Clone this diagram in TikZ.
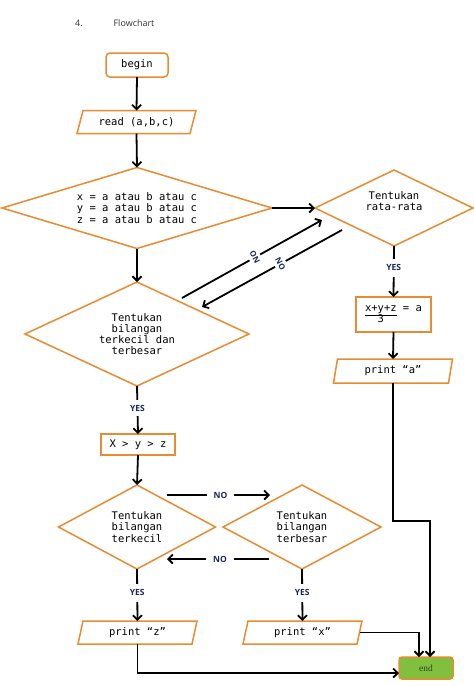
\documentclass[tikz,border=0pt]{standalone}
\usepackage{fontspec}
\setmonofont{DejaVu Sans Mono}
\newfontfamily\labfont{Open Sans}
\newfontfamily\endfont{Liberation Serif}
\usetikzlibrary{shapes.geometric,arrows.meta,calc}
\definecolor{orng}{RGB}{232,140,50}
\definecolor{navy}{RGB}{28,40,90}
\definecolor{endgreen}{RGB}{128,192,62}
\definecolor{endtext}{RGB}{50,70,30}
\newcommand\drawpara[2]{\draw[orng, line width=1.5pt, line join=miter]
  ([xshift=-#2pt]#1.south west) -- ([xshift=#2pt]#1.north west) --
  ([xshift=#2pt]#1.north east) -- ([xshift=-#2pt]#1.south east) -- cycle;}
\begin{document}
\begin{tikzpicture}[x=1pt,y=-1pt,
  every node/.style={font=\ttfamily\fontsize{10.5}{11.2}\selectfont, align=center, inner sep=0pt, outer sep=0pt},
  ttl/.style={font=\labfont\fontsize{9}{10}\selectfont, text=black!80},
  rectbox/.style={draw=orng, line width=1.5pt},
  termbox/.style={draw=orng, line width=1.5pt, rounded corners=4pt},
  paranode/.style={draw=none},
  dia/.style={draw=orng, line width=1.5pt, shape=diamond},
  arr/.style={line width=1.8pt, -{Straight Barb[length=4.5pt,width=9pt]}},
  labtext/.style={font=\labfont\bfseries\fontsize{8.5}{10}\selectfont, text=navy, fill=white},
  yeslab/.style={labtext, inner xsep=3pt, inner ysep=6pt},
  nolab/.style={labtext, inner xsep=7pt, inner ysep=3pt},
  rotlab/.style={labtext, font=\labfont\bfseries\fontsize{8}{9}\selectfont, inner xsep=0.5pt, inner ysep=3pt}
]
\useasboundingbox (0,0) rectangle (474,686);
\fill[white] (0,0) rectangle (474,686);

% title
\node[ttl] (num) at (79,23) {4.};
\node[ttl] (title) at (134,23) {Flowchart};

% main column
\node[termbox, minimum width=62, minimum height=24] (begin) at (137,65) {begin};
\node[paranode, minimum width=113, minimum height=23] (read) at (136.5,122) {read (a,b,c)};
\drawpara{read}{3}
\node[dia, aspect=3.33, minimum width=270, minimum height=81] (d1) at (137,208)
  {x = a atau b atau c\\y = a atau b atau c\\z = a atau b atau c};
\node[dia, aspect=2.08, minimum width=158, minimum height=76] (d2) at (394,208)
  {Tentukan\\rata-rata\\[3pt]};
\node[dia, aspect=2.15, minimum width=224, minimum height=104] (d3) at (137,334)
  {Tentukan\\bilangan\\terkecil dan\\terbesar};
\node[rectbox, minimum width=75, minimum height=35] (avg) at (393.5,314.5)
  {\begin{tabular}[t]{@{}c@{}}\underline{x+y+z}\\[-1pt]3\end{tabular} = a};
\node[paranode, minimum width=115, minimum height=24] (pa) at (393,371) {print “a”};
\drawpara{pa}{2}
\node[rectbox, minimum width=74, minimum height=21] (xyz) at (138,444.5) {X > y > z};
\node[dia, aspect=1.87, minimum width=157, minimum height=84] (d4) at (137,527)
  {Tentukan\\bilangan\\terkecil};
\node[dia, aspect=1.87, minimum width=158, minimum height=84] (d5) at (302,527)
  {Tentukan\\bilangan\\terbesar};
\node[paranode, minimum width=114, minimum height=23] (pz) at (137.5,632.5) {print “z”};
\drawpara{pz}{2.5}
\node[paranode, minimum width=114, minimum height=23] (px) at (302.5,632.5) {print “x”};
\drawpara{px}{2.5}
\node[draw=orng, line width=1.5pt, fill=endgreen, rounded corners=3pt,
  minimum width=54, minimum height=22, font=\endfont\fontsize{9.5}{11}\selectfont, text=endtext] (end) at (426,668) {end};

% free ends of connectors
\coordinate (n1a) at (182,298);
\coordinate (n1b) at (322,220);
\coordinate (n2a) at (342,230);
\coordinate (n2b) at (202,307);
\coordinate (h1a) at (167,495);
\coordinate (h1b) at (270,495);
\coordinate (h2a) at (269,559);
\coordinate (h2b) at (167,559);

% connectors
\draw[arr] (begin.south) -- (read.north);
\draw[arr] (read.south) -- (d1.north);
\draw[arr] (d1.east) -- (d2.west);
\draw[arr] (d1.south) -- (d3.north);
\draw[arr] (n1a) -- node[rotlab, pos=.52, rotate=119]{NO} (n1b);
\draw[arr] (n2a) -- node[rotlab, pos=.44, rotate=-61]{NO} (n2b);
\draw[arr] (d2.south) -- node[yeslab, pos=.43]{YES} (avg.north);
\draw[arr] (avg.south) -- (pa.north);
\draw[arr] (pa.south) -- ++(0,138) -| ([xshift=4pt]end.north);
\draw[arr] (d3.south) -- node[yeslab, pos=.46, inner ysep=5pt]{YES} (xyz.north);
\draw[arr] (xyz.south) -- (d4.north);
\draw[arr] (h1a) -- node[nolab, pos=.52]{NO} (h1b);
\draw[arr] (h2a) -- node[nolab, pos=.48]{NO} (h2b);
\draw[arr] (d4.south) -- node[yeslab, pos=.46]{YES} (pz.north);
\draw[arr] (d5.south) -- node[yeslab, pos=.46]{YES} (px.north);
\draw[arr] (px.east) -| ([xshift=-7pt]end.north);
\draw[arr] (pz.south) |- ([yshift=-5pt]end.west);
\end{tikzpicture}
\end{document}
